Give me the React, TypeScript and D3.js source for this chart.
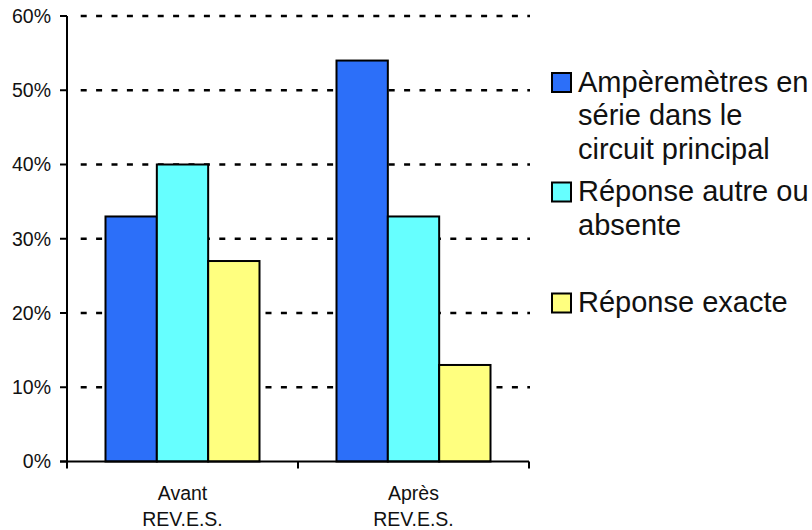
import React, { useEffect, useRef } from "react";
import * as d3 from "d3";

const categories = ["Avant|REV.E.S.", "Après|REV.E.S."];
const seriesNames = [
  "Ampèremètres en|série dans le|circuit principal",
  "Réponse autre ou|absente",
  "Réponse exacte",
];
const seriesColors = ["#2c6ff9", "#66ffff", "#ffff7f"];
const avantValues = [33, 40, 27];
const apresValues = [54, 33, 13];
const yTicks = [0, 10, 20, 30, 40, 50, 60];

function App() {
  const ref = useRef<SVGSVGElement>(null);

  useEffect(() => {
    const svg = d3.select(ref.current);
    svg.selectAll("*").remove();
    const font = "'Liberation Sans', Arial, sans-serif";

    const left = 67, right = 529, top = 16, bottom = 461.5;
    const values = [avantValues, apresValues];

    const y = d3.scaleLinear().domain([0, 60]).range([bottom, top]);
    const x0 = d3.scaleBand().domain(categories).range([left, right]).padding(0);
    const x1 = d3
      .scaleBand()
      .domain(seriesNames)
      .range([0, x0.bandwidth()])
      .paddingInner(0)
      .paddingOuter(0.75);

    // grid
    svg
      .append("g")
      .selectAll("line")
      .data(yTicks.filter((t) => t > 0))
      .join("line")
      .attr("x1", 80.7)
      .attr("x2", 530)
      .attr("y1", (d) => y(d))
      .attr("y2", (d) => y(d))
      .attr("stroke", "#000")
      .attr("stroke-width", 2.5)
      .attr("stroke-dasharray", "6 9.4");

    // bars
    const groups = svg
      .append("g")
      .selectAll("g")
      .data(categories)
      .join("g")
      .attr("transform", (d) => `translate(${x0(d)},0)`);
    groups
      .selectAll("rect")
      .data((d, i) => values[i].map((v, j) => ({ v, j })))
      .join("rect")
      .attr("x", (d) => x1(seriesNames[d.j])!)
      .attr("width", x1.bandwidth())
      .attr("y", (d) => y(d.v))
      .attr("height", (d) => y(0) - y(d.v))
      .attr("fill", (d) => seriesColors[d.j])
      .attr("stroke", "#000")
      .attr("stroke-width", 2);

    // y axis
    svg
      .append("line")
      .attr("x1", left)
      .attr("x2", left)
      .attr("y1", top)
      .attr("y2", bottom)
      .attr("stroke", "#000")
      .attr("stroke-width", 2);
    const yt = svg.append("g").selectAll("g").data(yTicks).join("g");
    yt.append("line")
      .attr("x1", 60)
      .attr("x2", left)
      .attr("y1", (d) => y(d))
      .attr("y2", (d) => y(d))
      .attr("stroke", "#000")
      .attr("stroke-width", 2);
    yt.append("text")
      .attr("x", 51)
      .attr("y", (d) => y(d))
      .attr("dy", "0.35em")
      .attr("text-anchor", "end")
      .attr("font-family", font)
      .attr("font-size", 19.5)
      .attr("fill", "#111")
      .text((d) => `${d}%`);

    // x axis
    svg
      .append("line")
      .attr("x1", 60)
      .attr("x2", right)
      .attr("y1", bottom)
      .attr("y2", bottom)
      .attr("stroke", "#000")
      .attr("stroke-width", 2);
    const xTickPos = [left, ...categories.map((c) => x0(c)! + x0.bandwidth())];
    svg
      .append("g")
      .selectAll("line")
      .data(xTickPos)
      .join("line")
      .attr("x1", (d) => d)
      .attr("x2", (d) => d)
      .attr("y1", bottom)
      .attr("y2", bottom + 7)
      .attr("stroke", "#000")
      .attr("stroke-width", 2);
    const xl = svg
      .append("g")
      .selectAll("text")
      .data(categories)
      .join("text")
      .attr("x", (d) => x0(d)! + x0.bandwidth() / 2)
      .attr("y", 500)
      .attr("text-anchor", "middle")
      .attr("font-family", font)
      .attr("font-size", 19.5)
      .attr("fill", "#111");
    xl.selectAll("tspan")
      .data((d) => d.split("|"))
      .join("tspan")
      .attr("x", function () {
        return (this.parentNode as SVGTextElement).getAttribute("x");
      })
      .attr("dy", (d, i) => (i === 0 ? 0 : 26))
      .text((d) => d);

    // legend
    const legendY = [92, 201.5, 312.5];
    const lg = svg
      .append("g")
      .selectAll("g")
      .data(seriesNames)
      .join("g")
      .attr("transform", (d, i) => `translate(0,${legendY[i]})`);
    lg.append("rect")
      .attr("x", 552)
      .attr("y", -19)
      .attr("width", 19)
      .attr("height", 19)
      .attr("fill", (d, i) => seriesColors[i])
      .attr("stroke", "#000")
      .attr("stroke-width", 2);
    const lt = lg
      .append("text")
      .attr("x", 578)
      .attr("y", -0.5)
      .attr("font-family", font)
      .attr("font-size", 29)
      .attr("fill", "#111");
    lt.selectAll("tspan")
      .data((d) => d.split("|"))
      .join("tspan")
      .attr("x", 578)
      .attr("dy", (d, i) => (i === 0 ? 0 : 33.7))
      .text((d) => d);
  }, []);

  return (
    <div style={{ position: "absolute", left: 0, top: 0 }}>
      <svg ref={ref} width={812} height={530} style={{ display: "block", background: "#fff" }} />
    </div>
  );
}

export default App;
